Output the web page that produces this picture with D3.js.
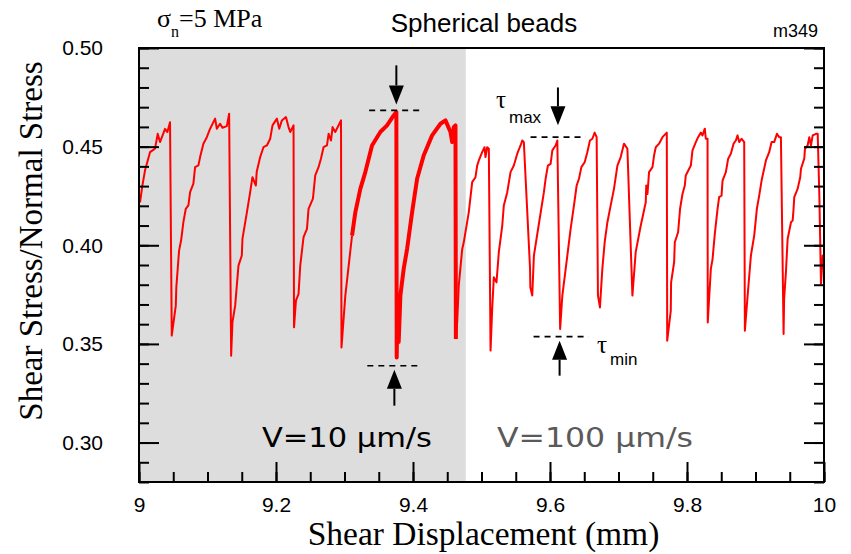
<!DOCTYPE html>
<html>
<head>
<meta charset="utf-8">
<script src="https://cdn.jsdelivr.net/npm/d3@7"></script>
<style>
  body { margin: 0; background: #fff; }
</style>
</head>
<body>
<div id="chart"></div>
<script>
// shear displacement (mm) and friction (shear/normal stress)
// V = 10 um/s, first part (clean cycles)
var dispA = [9.0015,9.0048,9.0088,9.0161,9.0234,9.0273,9.0307,9.0380,9.0414,9.0453,9.0478,9.0537,9.0545,9.0585,9.0614,9.0648,9.0683,9.0721,9.0746,9.0794,9.0819,9.0867,9.0892,9.0940,9.0990,9.1038,9.1111,9.1136,9.1184,9.1218,9.1282,9.1316,9.1345,9.1364,9.1404,9.1452,9.1501,9.1510,9.1575,9.1623,9.1656,9.1706,9.1718,9.1769,9.1817,9.1867,9.1915,9.1949,9.2013,9.2047,9.2086,9.2145,9.2183,9.2208,9.2256,9.2263,9.2291,9.2329,9.2354,9.2402,9.2452,9.2475,9.2539,9.2573,9.2621,9.2656,9.2694,9.2744,9.2768,9.2803,9.2826,9.2865,9.2949,9.2956,9.3012,9.3110];
var tauA = [0.4218,0.430,0.438,0.4472,0.449,0.4565,0.4523,0.459,0.4574,0.4624,0.3542,0.3694,0.3787,0.3973,0.4024,0.4117,0.4185,0.4202,0.4269,0.4312,0.4396,0.4405,0.4447,0.4515,0.4548,0.4591,0.4642,0.4591,0.4616,0.4596,0.4604,0.4667,0.344,0.3609,0.3694,0.3897,0.3948,0.4032,0.4167,0.4269,0.4345,0.4303,0.4371,0.4447,0.4497,0.4506,0.454,0.4608,0.4642,0.4591,0.4633,0.465,0.4599,0.4574,0.4608,0.3584,0.3719,0.3753,0.3897,0.4041,0.4083,0.4185,0.4236,0.4354,0.4396,0.4439,0.4497,0.4506,0.4565,0.4531,0.4599,0.4574,0.4633,0.3482,0.3745,0.4049];

// V = 10 um/s, noisy cycles (plotted as a heavier trace)
var dispB = [9.3110,9.3158,9.3231,9.3304,9.3402,9.3523,9.3621,9.3718,9.3757,9.3762,9.3772,9.3791,9.3816,9.3864,9.3914,9.3987,9.4060,9.4156,9.4279,9.4401,9.4474,9.4547,9.4572,9.4595,9.4620,9.4626];
var tauB = [0.4049,0.4167,0.4286,0.4371,0.4506,0.4574,0.4608,0.4658,0.4675,0.3431,0.368,0.351,0.3745,0.388,0.3982,0.4167,0.4337,0.4455,0.4557,0.4616,0.4633,0.4574,0.4523,0.4599,0.4608,0.3525];

// rest of the run, V = 100 um/s after the step
var dispC = [9.4626,9.4645,9.4668,9.4718,9.4741,9.4814,9.4864,9.4912,9.4937,9.4961,
  9.5010,9.5044,9.5058,9.5083,9.5107,9.5132,9.5156,9.5180,9.5219,9.5253,
  9.5303,9.5326,9.5376,9.5424,9.5472,9.5522,9.5570,9.5595,9.5618,9.5709,
  9.5713,9.5741,9.5765,9.5838,9.5911,9.5936,9.5969,9.6009,9.6034,9.6082,
  9.6107,9.6148,9.6180,9.6253,9.6301,9.6350,9.6389,9.6423,9.6458,9.6506,
  9.6545,9.6583,9.6618,9.6652,9.6681,9.6700,9.6729,9.6764,9.6798,9.6838,
  9.6886,9.6934,9.6984,9.7032,9.7080,9.7130,9.7203,9.7251,9.7325,9.7398,
  9.7405,9.7423,9.7446,9.7496,9.7519,9.7544,9.7592,9.7642,9.7705,9.7711,
  9.7763,9.7768,9.7812,9.7822,9.7870,9.7899,9.7934,9.7968,9.7982,9.8056,
  9.8080,9.8129,9.8162,9.8202,9.8226,9.8260,9.8275,9.8300,9.8303,9.8348,
  9.8373,9.8406,9.8446,9.8469,9.8504,9.8519,9.8567,9.8601,9.8640,9.8680,
  9.8713,9.8738,9.8762,9.8797,9.8835,9.8845,9.8885,9.8933,9.8981,9.9020,
  9.9054,9.9089,9.9152,9.9200,9.9235,9.9273,9.9313,9.9346,9.9371,9.9410,
  9.9418,9.9444,9.9469,9.9518,9.9542,9.9554,9.9566,9.9615,9.9653,9.9664,
  9.9712,9.9722,9.9761,9.9785,9.9810,9.9835,9.9883,9.9908,9.9932,9.9956,
  9.9981,9.9996];
var tauC = [0.3525,0.3609,0.3795,0.398,0.4015,0.4167,0.432,0.4345,0.4404,0.443,
  0.4472,0.4497,0.4447,0.4497,0.4489,0.3466,0.3677,0.3838,0.3812,0.3965,
  0.41,0.4202,0.4269,0.4371,0.4404,0.4464,0.4506,0.4531,0.4523,0.388,
  0.3787,0.3745,0.3948,0.4109,0.4269,0.4337,0.4404,0.4413,0.4481,0.4506,
  0.4531,0.3576,0.3745,0.3948,0.4083,0.4202,0.4303,0.4337,0.4396,0.4421,
  0.4472,0.4531,0.454,0.4571,0.4548,0.3745,0.3685,0.388,0.4015,0.4117,
  0.4202,0.4286,0.4404,0.4447,0.4515,0.4489,0.3745,0.3965,0.41,0.4218,
  0.4303,0.426,0.4371,0.4396,0.4455,0.4497,0.4515,0.4548,0.4571,0.3516,
  0.3668,0.3812,0.3914,0.4015,0.4066,0.4185,0.426,0.4303,0.4354,0.4404,
  0.4481,0.4523,0.4548,0.4571,0.4557,0.4591,0.454,0.454,0.3609,0.388,
  0.393,0.4058,0.4185,0.4244,0.4252,0.4328,0.4371,0.4439,0.4464,0.4515,
  0.4531,0.4557,0.4523,0.454,0.4523,0.3567,0.3745,0.3948,0.4049,0.4185,
  0.4252,0.4328,0.443,0.4472,0.4523,0.4523,0.4565,0.4548,0.4548,0.355,
  0.3728,0.3863,0.4032,0.4117,0.4125,0.4176,0.4244,0.4286,0.4345,0.4388,
  0.4439,0.4489,0.4506,0.4548,0.4506,0.4557,0.4565,0.4565,0.4252,0.3804,
  0.3948,0.388];

var velocityStep = 9.477;   // displacement where V goes from 10 to 100 um/s
var xMajor = [9, 9.2, 9.4, 9.6, 9.8, 10];
var yMajor = [0.30, 0.35, 0.40, 0.45, 0.50];

var margin = {top: 48, right: 27, bottom: 72, left: 139},
    width = 851 - margin.left - margin.right,
    height = 554 - margin.top - margin.bottom;

var sans = '"Liberation Sans", Arial, Helvetica, sans-serif';
var serif = '"Liberation Serif", "Times New Roman", serif';

var root = d3.select('#chart')
    .append('svg')
    .attr('width', 851)
    .attr('height', 554);

var svg = root.append('g')
    .attr('transform', 'translate(' + margin.left + ',' + margin.top + ')');

var x = d3.scaleLinear().domain([9, 10]).range([0, width]);
var y = d3.scaleLinear().domain([0.28, 0.50]).range([height, 0]);

// shaded V=10 part
svg.append('rect')
    .attr('x', 0).attr('y', 0)
    .attr('width', x(velocityStep))
    .attr('height', height)
    .attr('fill', '#dcdddc');

svg.append('clipPath').attr('id', 'clip')
    .append('rect').attr('width', width).attr('height', height);

function zip(a, b) { return a.map(function(d, i) { return [d, b[i]]; }); }

var line = d3.line()
    .x(function(d) { return x(d[0]); })
    .y(function(d) { return y(d[1]); });

var traces = [
  {data: zip(dispA, tauA), w: 2},
  {data: zip(dispB, tauB), w: 4},
  {data: zip(dispC, tauC), w: 2}
];
traces.forEach(function(t) {
  svg.append('path')
      .datum(t.data)
      .attr('clip-path', 'url(#clip)')
      .attr('fill', 'none')
      .attr('stroke', '#ff0000')
      .attr('stroke-width', t.w)
      .attr('stroke-linejoin', 'round')
      .attr('d', line);
});

// axes, ticks pointing inward
var yMinor = d3.range(28, 51).map(function(d) { return d / 100; });
var xMinor = d3.range(0, 21).map(function(i) { return 9 + i * 0.05; });

svg.append('g').call(d3.axisLeft(y).tickValues(yMinor).tickSize(-10).tickFormat(''));
svg.append('g').call(d3.axisLeft(y).tickValues(yMajor).tickSize(-20).tickPadding(36).tickFormat(d3.format('.2f')));
svg.append('g').attr('transform', 'translate(' + width + ',0)')
    .call(d3.axisRight(y).tickValues(yMinor).tickSize(-10).tickFormat(''));
svg.append('g').attr('transform', 'translate(' + width + ',0)')
    .call(d3.axisRight(y).tickValues(yMajor).tickSize(-20).tickFormat(''));
svg.append('g').attr('transform', 'translate(0,' + height + ')')
    .call(d3.axisBottom(x).tickValues(xMinor).tickSize(-10).tickFormat(''));
svg.append('g').attr('transform', 'translate(0,' + height + ')')
    .call(d3.axisBottom(x).tickValues(xMajor).tickSize(-20).tickPadding(15)
      .tickFormat(function(d) { return (d === 9 || d === 10) ? d : d.toFixed(1); }));

svg.selectAll('.domain').remove();
svg.selectAll('.tick line').attr('stroke', '#000').attr('stroke-width', 2);
svg.selectAll('.tick text')
    .attr('fill', '#000')
    .style('font-family', sans)
    .style('font-size', '21px');

// frame
svg.append('rect')
    .attr('width', width).attr('height', height)
    .attr('fill', 'none').attr('stroke', '#000').attr('stroke-width', 2);

// tau max / tau min markers
function dashed(x0, x1, v) {
  svg.append('line')
      .attr('x1', x(x0)).attr('x2', x(x1))
      .attr('y1', y(v)).attr('y2', y(v))
      .attr('stroke', '#000').attr('stroke-width', 1.6)
      .attr('stroke-dasharray', '6,5');
}
function arrow(xv, tail, tip) {
  var px = x(xv), t0 = y(tail), t1 = y(tip);
  var dir = t1 > t0 ? 1 : -1;
  var head = 19, half = 7.5;
  svg.append('line')
      .attr('x1', px).attr('x2', px)
      .attr('y1', t0).attr('y2', t1 - dir * head)
      .attr('stroke', '#000').attr('stroke-width', 2);
  svg.append('path')
      .attr('d', 'M' + px + ',' + t1 + 'L' + (px - half) + ',' + (t1 - dir * head) +
                 'L' + (px + half) + ',' + (t1 - dir * head) + 'Z')
      .attr('fill', '#000');
}

dashed(9.336, 9.413, 0.4684);
arrow(9.3757, 0.4912, 0.4714);
dashed(9.3333, 9.4108, 0.3389);
arrow(9.3728, 0.3187, 0.3369);
dashed(9.5716, 9.652, 0.4548);
arrow(9.6116, 0.480, 0.4608);
dashed(9.576, 9.6564, 0.3537);
arrow(9.614, 0.3339, 0.3516);

// labels inside the plot (page coordinates)
var page = root.append('g');

function tauLabel(xp, yp, sub, subY) {
  page.append('text').attr('x', xp).attr('y', yp)
      .style('font-family', serif).style('font-size', '25px').text('\u03c4');
  page.append('text').attr('x', xp + 13).attr('y', subY)
      .style('font-family', sans).style('font-size', '17px').text(sub);
}
tauLabel(496, 108, 'max', 123);
tauLabel(597, 353, 'min', 365);

page.append('text')
    .attr('x', 262).attr('y', 447)
    .attr('textLength', 170).attr('lengthAdjust', 'spacingAndGlyphs')
    .style('font-family', '"DejaVu Sans", sans-serif').style('font-size', '26px')
    .attr('fill', '#000')
    .text('V=10  \u03bcm/s');
page.append('text')
    .attr('x', 497).attr('y', 447)
    .attr('textLength', 196).attr('lengthAdjust', 'spacingAndGlyphs')
    .style('font-family', '"DejaVu Sans", sans-serif').style('font-size', '26px')
    .attr('fill', '#5a5a5a')
    .text('V=100  \u03bcm/s');

// titles
page.append('text')
    .attr('x', 484).attr('y', 32)
    .attr('text-anchor', 'middle')
    .style('font-family', sans).style('font-size', '26px')
    .text('Spherical beads');
page.append('text')
    .attr('x', 818).attr('y', 37)
    .attr('text-anchor', 'end')
    .style('font-family', sans).style('font-size', '18px')
    .text('m349');

var sig = page.append('text')
    .attr('x', 157).attr('y', 27)
    .style('font-family', serif).style('font-size', '26px');
sig.append('tspan').text('\u03c3');
sig.append('tspan').attr('dy', 10).style('font-size', '16px').text('n');
sig.append('tspan').attr('dy', -10).text('=5 MPa');

page.append('text')
    .attr('x', margin.left + width / 2 + 2).attr('y', 545)
    .attr('text-anchor', 'middle')
    .style('font-family', serif).style('font-size', '33.5px')
    .text('Shear Displacement (mm)');
page.append('text')
    .attr('transform', 'translate(42,241) rotate(-90)')
    .attr('text-anchor', 'middle')
    .style('font-family', serif).style('font-size', '33px')
    .text('Shear Stress/Normal Stress');
</script>
</body>
</html>
